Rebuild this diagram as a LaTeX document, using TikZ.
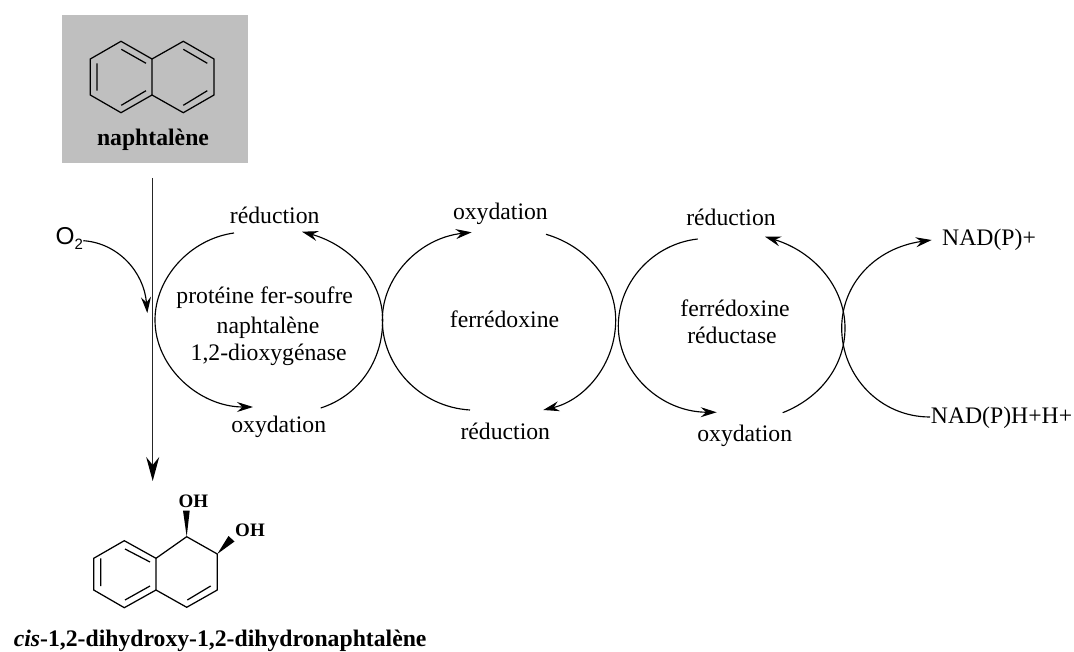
\documentclass[tikz,border=0pt]{standalone}
\usepackage{fontspec}
\setmainfont{Liberation Serif}
\newfontfamily\arialf{Liberation Sans}
\usetikzlibrary{arrows.meta}
\tikzset{
  x=1pt,y=-1pt,
  lbl/.style={inner sep=0pt,font=\fontsize{23.7}{24}\selectfont},
  blbl/.style={inner sep=0pt,font=\fontsize{23.7}{24}\selectfont\bfseries},
  bond/.style={line width=1.25pt,line join=miter},
  cyc/.style={line width=1.15pt},
  cyca/.style={line width=1.15pt,-{Stealth[length=16pt,width=10pt,inset=5.5pt]}},
  main/.style={line width=1.3pt,black!85,-{Stealth[length=24pt,width=13pt,inset=8pt,black]}},
}
\begin{document}
\begin{tikzpicture}
\useasboundingbox (0,0) rectangle (1074,652);
\fill[black!25] (62,15) rectangle (247.7,163);
% naphthalene
\draw[bond] (152,59) -- (121,41.3) -- (90.3,59) -- (90.3,95) -- (121,112.7) -- (152,95) -- cycle;
\draw[bond] (152,59) -- (183.3,41.3) -- (214,59) -- (214,95) -- (183.3,112.7) -- (152,95);
\draw[bond] (97,63.3) -- (97,90.7) (121.3,49.3) -- (146,63.3) (121.3,105.3) -- (146,90.7)
  (183.3,49.3) -- (207.3,63.3) (183.3,105.3) -- (207.3,90.7);
\node[blbl] (nap) at (153,140) {naphtalène};
% main arrow
\coordinate (mainS) at (152.7,178);
\coordinate (mainE) at (152.7,481);
\draw[main] (mainS) -- (mainE);
% O2
\node[inner sep=0pt,font=\arialf\fontsize{24.4}{24}\selectfont,anchor=west] (otwo) at (55.5,238) {O\raisebox{-5pt}{\fontsize{15}{15}\selectfont 2}};
\coordinate (oS) at (83.3,240.7);
\coordinate (oE) at (147.3,313);
\draw[cyca] (oS) .. controls (118,243) and (144,272) .. (oE);
% circle 1
\draw[cyc] (234,233) .. controls (190,239) and (155,278) .. (155,320);
\draw[cyca] (155,320) .. controls (155,368) and (200,407) .. (253,407);
\draw[cyc] (320.7,408) .. controls (358,396) and (382.7,362) .. (382.7,320);
\draw[cyca] (382.7,320) .. controls (382.7,280) and (350,245) .. (302,231.7);
% circle 2
\draw[cyca] (382.3,320) .. controls (382.3,276) and (420,238) .. (471.7,232.3);
\draw[cyc] (382.3,320) .. controls (382.3,366) and (420,407) .. (470,410);
\draw[cyc] (546,234.3) .. controls (586,246) and (615.7,280) .. (615.7,320);
\draw[cyca] (615.7,320) .. controls (615.7,364) and (585,400) .. (543.3,410);
% circle 3
\draw[cyc] (697.7,239) .. controls (653,244) and (618.3,282) .. (618.3,326);
\draw[cyca] (618.3,326) .. controls (618.3,372) and (660,412) .. (716.7,412.3);
\draw[cyc] (782.7,412.7) .. controls (820,398) and (845,366) .. (845,328);
\draw[cyca] (845,328) .. controls (845,288) and (815,252) .. (765,236.7);
% circle 4
\draw[cyca] (841.7,328) .. controls (841.7,284) and (875,248) .. (931.7,240);
\draw[cyc] (841.7,328) .. controls (841.7,376) and (880,417) .. (930,417);
% labels
\node[lbl] (r1) at (274.7,215) {réduction};
\node[lbl] (o1) at (278.7,427) {oxydation};
\node[lbl] (e1a) at (264.7,298) {protéine fer-soufre};
\node[lbl] (e1b) at (268,328) {naphtalène};
\node[lbl] (e1c) at (268.7,355) {1,2-dioxygénase};
\node[lbl] (o2) at (500.4,214) {oxydation};
\node[lbl] (e2) at (504.5,319) {ferrédoxine};
\node[lbl] (r2) at (505.3,431.7) {réduction};
\node[lbl] (r3) at (731,217.7) {réduction};
\node[lbl] (e3a) at (735,308) {ferrédoxine};
\node[lbl] (e3b) at (732,335.7) {réductase};
\node[lbl] (o3) at (744.7,435.7) {oxydation};
\node[lbl,anchor=west] (nadp) at (942,240) {NAD(P)+};
\node[lbl,anchor=west] (nadh) at (930.7,417.5) {NAD(P)H+H+};
% product
\draw[bond] (156,558.3) -- (124.3,540.7) -- (93.7,558.3) -- (93.7,590) -- (124.3,607.7) -- (156,590) -- cycle;
\draw[bond] (156,558.3) -- (186.7,536.7) -- (217.3,554) -- (217.3,590) -- (186.7,607.3) -- (156,590);
\draw[bond] (100.7,558.3) -- (100.7,586) (125,549) -- (150,562) (125,600) -- (150,586) (187.3,600) -- (210.7,586);
\fill (186.7,536.7) -- (183,510.7) -- (189.7,510.7) -- cycle;
\fill (217.3,554) -- (228.5,536) -- (234.5,541.5) -- cycle;
\node[inner sep=0pt,font=\fontsize{19}{19}\selectfont\bfseries] (oh1) at (193.3,501.7) {OH};
\node[inner sep=0pt,font=\fontsize{19}{19}\selectfont\bfseries] (oh2) at (250,530) {OH};
\node[blbl,anchor=base east] (prod) at (426.7,646.5) {\textit{cis}-1,2-dihydroxy-1,2-dihydronaphtalène};
\end{tikzpicture}
\end{document}
